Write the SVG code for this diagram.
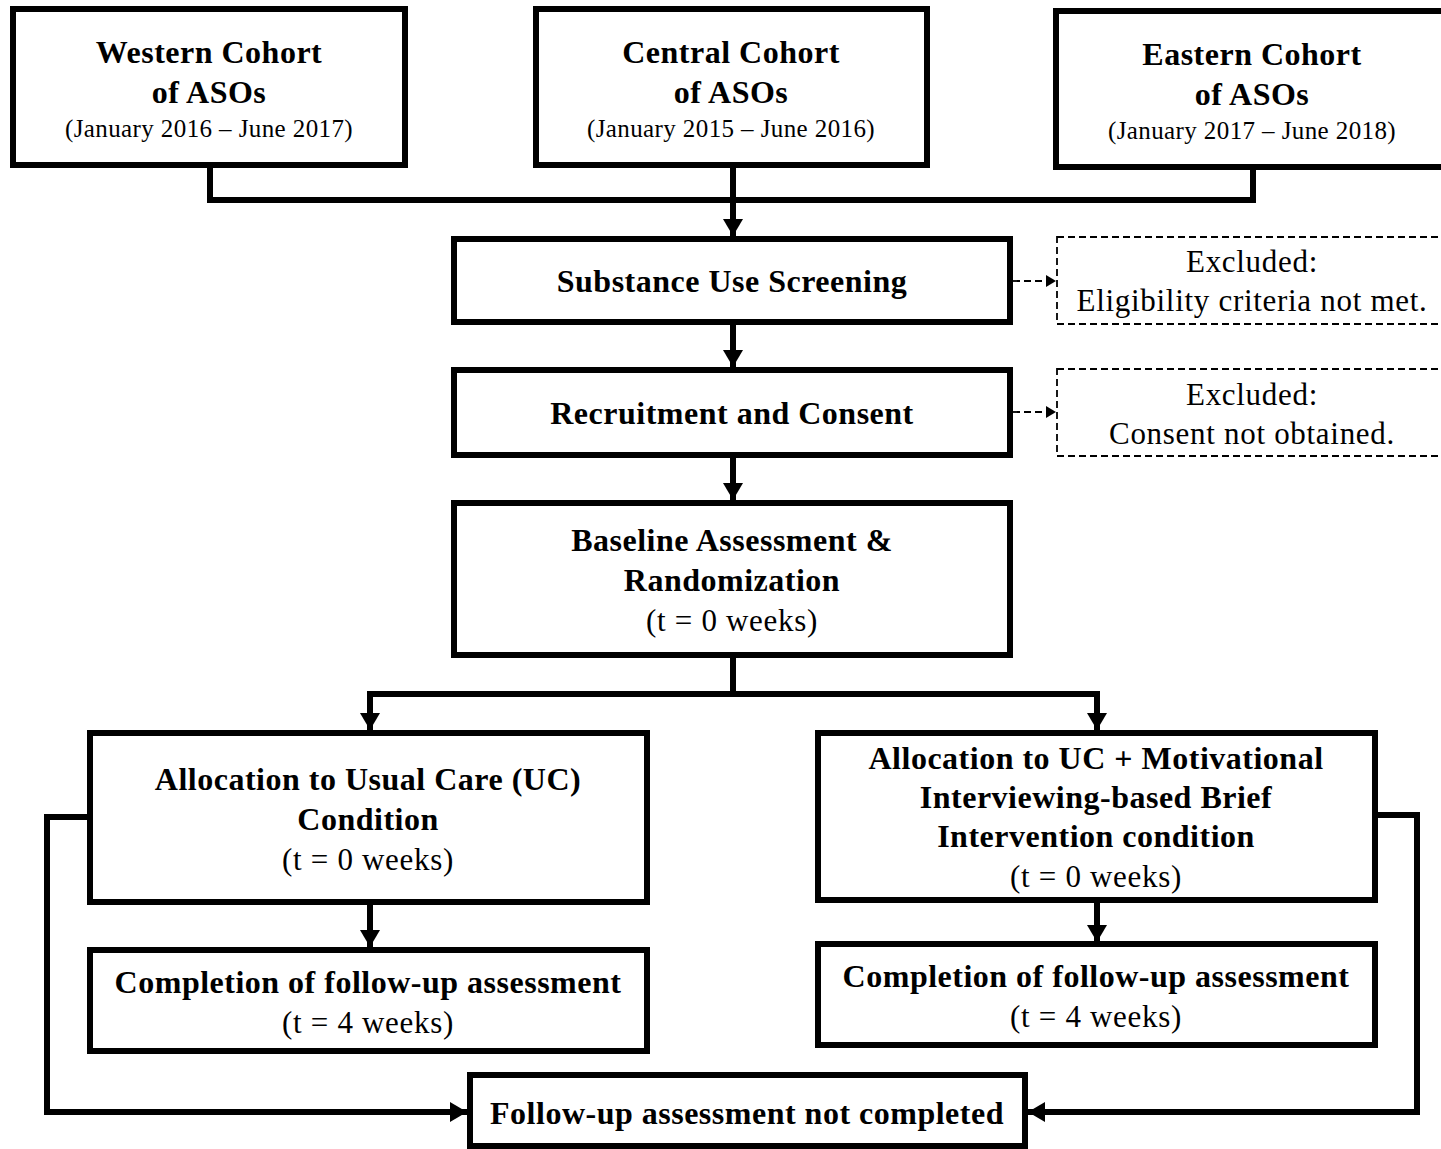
<svg xmlns="http://www.w3.org/2000/svg" width="1441" height="1149" viewBox="0 0 1441 1149">
<style>
.box{fill:#fff;stroke:#000;stroke-width:6}
.dbox{fill:#fff;stroke:#000;stroke-width:1.8;stroke-dasharray:7,4}
.con{fill:none;stroke:#000;stroke-width:6}
.dcon{fill:none;stroke:#000;stroke-width:1.8;stroke-dasharray:7,4}
text{font-family:"Liberation Serif","Times New Roman",serif;fill:#000;text-anchor:middle}
.b{font-weight:bold;font-size:32px;letter-spacing:0.5px}
.r{font-size:31px;letter-spacing:0.7px}
.d{font-size:25px;letter-spacing:0.4px}
</style>
<defs>
<marker id="ah" markerUnits="userSpaceOnUse" markerWidth="20" markerHeight="22" refX="17" refY="10" orient="auto">
<path d="M0,0 L17,10 L0,20 z" fill="#000"/>
</marker>
<marker id="ahs" markerUnits="userSpaceOnUse" markerWidth="11" markerHeight="13" refX="10" refY="6" orient="auto">
<path d="M0,0 L10,6 L0,12 z" fill="#000"/>
</marker>
</defs>
<rect width="1441" height="1149" fill="#fff"/>
<g id="connectors">
<path class="con" d="M210,165 V200 H1253 V167"/>
<path class="con" d="M733,165 V236" marker-end="url(#ah)"/>
<path class="con" d="M733,322 V367" marker-end="url(#ah)"/>
<path class="con" d="M733,455 V500" marker-end="url(#ah)"/>
<path class="con" d="M733,655 V694"/>
<path class="con" d="M370,730 V694 H1097 V730" marker-end="url(#ah)"/>
<path class="con" d="M370,697 V730" marker-end="url(#ah)"/>
<path class="con" d="M370,902 V947" marker-end="url(#ah)"/>
<path class="con" d="M1097,900 V942" marker-end="url(#ah)"/>
<path class="con" d="M90,817 H47 V1112 H467" marker-end="url(#ah)"/>
<path class="con" d="M1375,815 H1417 V1112 H1028" marker-end="url(#ah)"/>
<path class="dcon" d="M1013,281 H1056" marker-end="url(#ahs)"/>
<path class="dcon" d="M1013,412 H1056" marker-end="url(#ahs)"/>
</g>
<g id="western">
<rect class="box" x="13" y="9" width="392" height="156"/>
<text class="b" x="209" y="63">Western Cohort</text>
<text class="b" x="209" y="103">of ASOs</text>
<text class="d" x="209" y="137">(January 2016 – June 2017)</text>
</g>
<g id="central">
<rect class="box" x="536" y="9" width="391" height="156"/>
<text class="b" x="731" y="63">Central Cohort</text>
<text class="b" x="731" y="103">of ASOs</text>
<text class="d" x="731" y="137">(January 2015 – June 2016)</text>
</g>
<g id="eastern">
<rect class="box" x="1056" y="11" width="400" height="156"/>
<text class="b" x="1252" y="65">Eastern Cohort</text>
<text class="b" x="1252" y="105">of ASOs</text>
<text class="d" x="1252" y="139">(January 2017 – June 2018)</text>
</g>
<g id="screening">
<rect class="box" x="454" y="239" width="556" height="83"/>
<text class="b" x="732" y="292">Substance Use Screening</text>
</g>
<g id="excluded1">
<rect class="dbox" x="1057" y="237" width="400" height="87"/>
<text class="r" x="1252" y="272">Excluded:</text>
<text class="r" x="1252" y="311">Eligibility criteria not met.</text>
</g>
<g id="recruitment">
<rect class="box" x="454" y="370" width="556" height="85"/>
<text class="b" x="732" y="424">Recruitment and Consent</text>
</g>
<g id="excluded2">
<rect class="dbox" x="1057" y="369" width="400" height="87"/>
<text class="r" x="1252" y="405">Excluded:</text>
<text class="r" x="1252" y="444">Consent not obtained.</text>
</g>
<g id="baseline">
<rect class="box" x="454" y="503" width="556" height="152"/>
<text class="b" x="732" y="551">Baseline Assessment &amp;</text>
<text class="b" x="732" y="591">Randomization</text>
<text class="r" x="732" y="631">(t = 0 weeks)</text>
</g>
<g id="alloc-uc">
<rect class="box" x="90" y="733" width="557" height="169"/>
<text class="b" x="368" y="790">Allocation to Usual Care (UC)</text>
<text class="b" x="368" y="830">Condition</text>
<text class="r" x="368" y="870">(t = 0 weeks)</text>
</g>
<g id="alloc-mi">
<rect class="box" x="818" y="733" width="557" height="167"/>
<text class="b" x="1096" y="769">Allocation to UC + Motivational</text>
<text class="b" x="1096" y="808">Interviewing-based Brief</text>
<text class="b" x="1096" y="847">Intervention condition</text>
<text class="r" x="1096" y="887">(t = 0 weeks)</text>
</g>
<g id="complete-uc">
<rect class="box" x="90" y="950" width="557" height="101"/>
<text class="b" x="368" y="993">Completion of follow-up assessment</text>
<text class="r" x="368" y="1033">(t = 4 weeks)</text>
</g>
<g id="complete-mi">
<rect class="box" x="818" y="944" width="557" height="101"/>
<text class="b" x="1096" y="987">Completion of follow-up assessment</text>
<text class="r" x="1096" y="1027">(t = 4 weeks)</text>
</g>
<g id="not-completed">
<rect class="box" x="470" y="1075" width="555" height="71"/>
<text class="b" x="747" y="1124">Follow-up assessment not completed</text>
</g>
</svg>
